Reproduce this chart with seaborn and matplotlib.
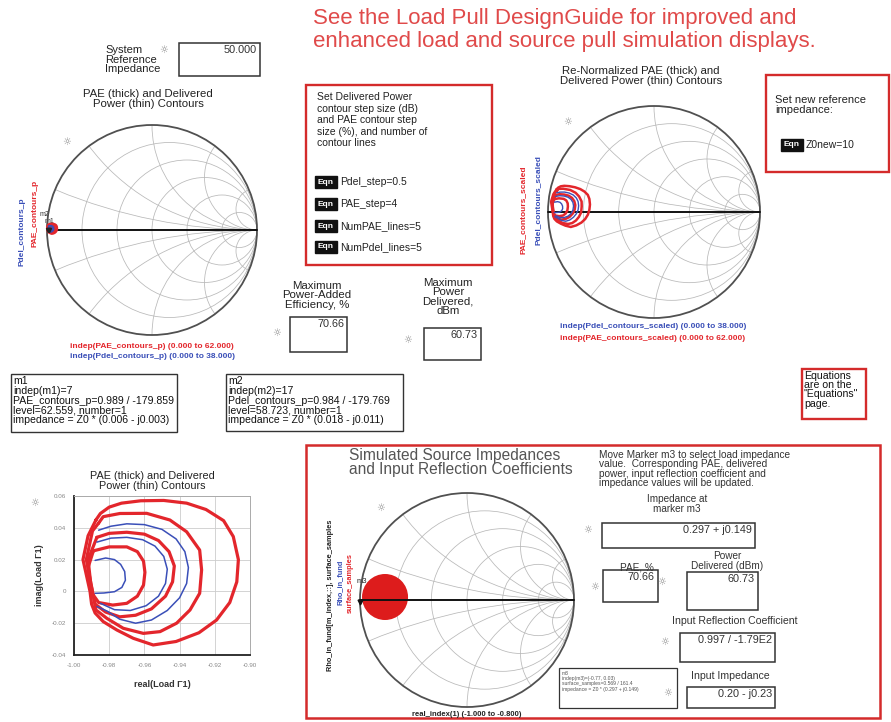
import numpy as np
import pandas as pd
import matplotlib
matplotlib.use("Agg")
import matplotlib.pyplot as plt
from matplotlib.patches import Rectangle, Circle
import seaborn as sns

sns.set_theme(style="white")
plt.rcParams["font.family"] = ["Liberation Sans", "DejaVu Sans"]

W, H = 891, 722

# ---------------- data ----------------
z0_system = 50.0
z0_new = 10.0
pdel_step = 0.5
pae_step = 4
num_pae_lines = 5
num_pdel_lines = 5
max_pae = 70.66
max_pdel = 60.73
imp_m3 = "0.297 + j0.149"
rho_in_mag = 0.997
rho_in_ang = -179.0
z_in = "0.20 - j0.23"

# PAE contours (thick, red), load reflection coefficient
pae_c1_re = [-0.9875, -0.9850, -0.9800, -0.9730, -0.9620, -0.9490, -0.9360, -0.9250, -0.9150,
             -0.9095, -0.9066, -0.9075, -0.9115, -0.9190, -0.9290, -0.9420, -0.9550, -0.9663,
             -0.9756, -0.9834, -0.9880, -0.9900, -0.9909, -0.9949, -0.9920, -0.9875]
pae_c1_im = [0.0450, 0.0490, 0.0530, 0.0555, 0.0570, 0.0572, 0.0555, 0.0515, 0.0445,
             0.0345, 0.0200, 0.0060, -0.0070, -0.0180, -0.0260, -0.0315, -0.0337, -0.0295,
             -0.0243, -0.0190, -0.0136, -0.0080, 0.0000, 0.0200, 0.0350, 0.0450]
pae_c2_re = [-0.9860, -0.9834, -0.9739, -0.9587, -0.9455, -0.9360, -0.9286, -0.9275, -0.9286,
             -0.9341, -0.9417, -0.9511, -0.9606, -0.9720, -0.9814, -0.9875, -0.9895, -0.9930,
             -0.9895, -0.9860]
pae_c2_im = [0.0430, 0.0470, 0.0490, 0.0491, 0.0449, 0.0375, 0.0260, 0.0135, -0.0012,
             -0.0117, -0.0200, -0.0253, -0.0264, -0.0232, -0.0169, -0.0117, 0.0000, 0.0200,
             0.0380, 0.0430]
pae_c3_re = [-0.9870, -0.9800, -0.9700, -0.9600, -0.9520, -0.9460, -0.9430, -0.9440, -0.9480,
             -0.9560, -0.9650, -0.9740, -0.9820, -0.9880, -0.9905, -0.9920, -0.9870]
pae_c3_im = [0.0340, 0.0365, 0.0372, 0.0360, 0.0320, 0.0250, 0.0160, 0.0060, -0.0030,
             -0.0110, -0.0150, -0.0160, -0.0130, -0.0080, 0.0050, 0.0200, 0.0340]
pae_c4_re = [-0.9890, -0.9800, -0.9700, -0.9640, -0.9605, -0.9597, -0.9605, -0.9640, -0.9700,
             -0.9780, -0.9860, -0.9905, -0.9920, -0.9890]
pae_c4_im = [0.0255, 0.0280, 0.0280, 0.0250, 0.0190, 0.0120, 0.0040, -0.0030, -0.0075,
             -0.0086, -0.0070, 0.0000, 0.0150, 0.0255]

# Delivered power contours (thin, blue)
pdel_c1_re = [-0.9860, -0.9790, -0.9700, -0.9600, -0.9500, -0.9420, -0.9370, -0.9350, -0.9360,
              -0.9400, -0.9470, -0.9560, -0.9650, -0.9740, -0.9810, -0.9870]
pdel_c1_im = [0.0385, 0.0410, 0.0425, 0.0420, 0.0390, 0.0330, 0.0250, 0.0150, 0.0050,
              -0.0040, -0.0120, -0.0180, -0.0200, -0.0175, -0.0125, -0.0095]
pdel_c2_re = [-0.9870, -0.9790, -0.9700, -0.9610, -0.9540, -0.9490, -0.9470, -0.9480, -0.9520,
              -0.9590, -0.9680, -0.9770, -0.9850]
pdel_c2_im = [0.0310, 0.0335, 0.0340, 0.0325, 0.0285, 0.0220, 0.0140, 0.0050, -0.0030,
              -0.0090, -0.0120, -0.0115, -0.0075]
pdel_c3_re = [-0.9880, -0.9820, -0.9770, -0.9735, -0.9712, -0.9708, -0.9728, -0.9770, -0.9830,
              -0.9880]
pdel_c3_im = [0.0195, 0.0210, 0.0200, 0.0170, 0.0125, 0.0070, 0.0025, -0.0002, -0.0010,
              -0.0012]

# markers on the load contours
m1_mag, m1_ang = 0.989, -179.859
m2_mag, m2_ang = 0.984, -179.769

# simulated source-impedance samples (filled disk) on the input Smith chart
src_center_re, src_center_im = -0.766, 0.028
src_radius = 0.215

# Smith chart grid values
smith_r = [0.2, 0.5, 1.0, 2.0, 5.0]
smith_x = [0.2, 0.5, 1.0, 2.0, 5.0]

# rectangular plot ticks
rect_xticks = [-1.00, -0.98, -0.96, -0.94, -0.92, -0.90]
rect_yticks = [-0.04, -0.02, 0.0, 0.02, 0.04, 0.06]

RED = "#e3262c"
BLUE = "#3a4fb8"
GRID = "#b8b8b8"
BOXRED = "#d42b2b"


def frame(pairs, name):
    return pd.DataFrame({"re": pairs[0], "im": pairs[1], "level": name})


pae_df = pd.concat([frame((pae_c1_re, pae_c1_im), "p1"), frame((pae_c2_re, pae_c2_im), "p2"),
                    frame((pae_c3_re, pae_c3_im), "p3"), frame((pae_c4_re, pae_c4_im), "p4")],
                   ignore_index=True)
pdel_df = pd.concat([frame((pdel_c1_re, pdel_c1_im), "d1"), frame((pdel_c2_re, pdel_c2_im), "d2"),
                     frame((pdel_c3_re, pdel_c3_im), "d3")], ignore_index=True)


def renorm(df):
    g = df["re"].to_numpy() + 1j * df["im"].to_numpy()
    z = z0_system * (1 + g) / (1 - g)
    gn = (z - z0_new) / (z + z0_new)
    out = df.copy()
    out["re"], out["im"] = gn.real, gn.imag
    return out


pae_scaled = renorm(pae_df)
pdel_scaled = renorm(pdel_df)

# ---------------- figure ----------------
fig = plt.figure(figsize=(W / 100, H / 100), dpi=100)
fig.patch.set_facecolor("white")
bg = fig.add_axes([0, 0, 1, 1])
bg.set_xlim(0, W)
bg.set_ylim(H, 0)
bg.axis("off")


def ax_px(x0, y0, w, h):
    a = fig.add_axes([x0 / W, 1 - (y0 + h) / H, w / W, h / H])
    a.patch.set_alpha(0)
    return a


def txt(x, y, s, size=7.5, color="#222222", ha="left", va="top", ls=1.0, **kw):
    bg.text(x, y, s, fontsize=size, color=color, ha=ha, va=va, linespacing=ls, **kw)


def box(x0, y0, x1, y1, ec="#333333", lw=1.0):
    bg.add_patch(Rectangle((x0, y0), x1 - x0, y1 - y0, fill=False, ec=ec, lw=lw))


def value_box(x0, y0, x1, y1, s, size=7.8):
    box(x0, y0, x1, y1, lw=1.1)
    txt(x1 - 3, y0 + 2, s, size=size, color="#333333", ha="right")


def handle(x, y):
    bg.text(x, y, "\u263c", fontsize=7, color="#8a8a8a", ha="center", va="center",
            family=["DejaVu Sans"])


def eqn(x, y, s):
    bg.add_patch(Rectangle((x, y - 6), 22, 12, color="#111111"))
    bg.text(x + 11, y, "Eqn", fontsize=6, color="white", ha="center", va="center",
            fontweight="bold")
    txt(x + 25, y, s, size=7.5, color="#222222", va="center")


def smith(cx, cy, R):
    pad = 1.04
    a = ax_px(cx - R * pad, cy - R * pad, 2 * R * pad, 2 * R * pad)
    a.set_xlim(-pad, pad)
    a.set_ylim(-pad, pad)
    a.set_aspect("equal")
    a.axis("off")
    clip = Circle((0, 0), 1, transform=a.transData, fill=False, ec="none")
    a.add_patch(clip)
    for r in smith_r:
        c = Circle((r / (1 + r), 0), 1 / (1 + r), fill=False, ec=GRID, lw=0.55)
        a.add_patch(c)
        c.set_clip_path(clip)
    for x in smith_x:
        for s in (1, -1):
            c = Circle((1, s / x), 1 / x, fill=False, ec=GRID, lw=0.55)
            a.add_patch(c)
            c.set_clip_path(clip)
    a.add_patch(Circle((0, 0), 1, fill=False, ec="#505050", lw=1.3))
    a.plot([-1, 1], [0, 0], color="#111111", lw=1.4)
    return a


def draw_contours(a, pae, pdel, lw_pae=2.2, lw_pdel=1.1):
    sns.lineplot(data=pae, x="re", y="im", units="level", estimator=None, sort=False,
                 color=RED, lw=lw_pae, ax=a, legend=False)
    sns.lineplot(data=pdel, x="re", y="im", units="level", estimator=None, sort=False,
                 color=BLUE, lw=lw_pdel, ax=a, legend=False)
    a.set_xlabel("")
    a.set_ylabel("")


# ---- header ----
txt(313, 8, "See the Load Pull DesignGuide for improved and\nenhanced load and source pull simulation displays.",
    size=16, color="#e04a4a", ls=1.15)
txt(105, 45, "System\nReference\nImpedance", size=8, ls=0.95)
handle(164, 50)
value_box(179, 43, 260, 76, f"{z0_system:.3f}")

# ---- Smith chart 1: PAE / Pdel contours ----
txt(148, 89, "PAE (thick) and Delivered\nPower (thin) Contours", size=8.2, ha="center", ls=0.95)
handle(67, 142)
s1 = smith(152, 230, 105)
draw_contours(s1, pae_df, pdel_df, lw_pae=2.0, lw_pdel=1.0)
s1.set_xlim(-1.04, 1.04)
s1.set_ylim(-1.04, 1.04)
for mag, ang in ((m1_mag, m1_ang), (m2_mag, m2_ang)):
    s1.plot(mag * np.cos(np.radians(ang)), mag * np.sin(np.radians(ang)), marker="v", ms=3,
            color="#222222")
txt(40, 211, "m2", size=5, color="#333333")
txt(45, 218, "m1", size=5, color="#333333")
bg.text(35, 213, "PAE_contours_p", rotation=90, fontsize=6, color=RED, ha="center", va="center",
        fontweight="bold")
bg.text(22, 232, "Pdel_contours_p", rotation=90, fontsize=6, color=BLUE, ha="center",
        va="center", fontweight="bold")
txt(152, 347, "indep(PAE_contours_p) (0.000 to 62.000)", size=6, color=RED, ha="center",
    va="center", fontweight="bold")
txt(152, 357, "indep(Pdel_contours_p) (0.000 to 38.000)", size=6, color=BLUE, ha="center",
    va="center", fontweight="bold")

# ---- step-size equations ----
box(306, 85, 492, 265, ec=BOXRED, lw=1.7)
txt(317, 92, "Set Delivered Power\ncontour step size (dB)\nand PAE contour step\nsize (%), and number of\ncontour lines",
    size=7.5, ls=1.2)
eqn(315, 182, f"Pdel_step={pdel_step}")
eqn(315, 204, f"PAE_step={pae_step}")
eqn(315, 226, f"NumPAE_lines={num_pae_lines}")
eqn(315, 247, f"NumPdel_lines={num_pdel_lines}")

# ---- Smith chart 2: re-normalized ----
txt(641, 66, "Re-Normalized PAE (thick) and\nDelivered Power (thin) Contours", size=8.2, ha="center",
    ls=0.95)
handle(568, 122)
s2 = smith(654, 212, 106)
draw_contours(s2, pae_scaled, pdel_scaled, lw_pae=1.8, lw_pdel=1.0)
s2.set_xlim(-1.04, 1.04)
s2.set_ylim(-1.04, 1.04)
bg.text(523, 210, "PAE_contours_scaled", rotation=90, fontsize=6, color=RED, ha="center",
        va="center", fontweight="bold")
bg.text(538, 200, "Pdel_contours_scaled", rotation=90, fontsize=6, color=BLUE, ha="center",
        va="center", fontweight="bold")
txt(653, 327, "indep(Pdel_contours_scaled) (0.000 to 38.000)", size=6, color=BLUE, ha="center",
    va="center", fontweight="bold")
txt(653, 338, "indep(PAE_contours_scaled) (0.000 to 62.000)", size=6, color=RED, ha="center",
    va="center", fontweight="bold")

box(766, 75, 889, 172, ec=BOXRED, lw=1.7)
txt(775, 95, "Set new reference\nimpedance:", size=8, ls=0.95)
eqn(781, 145, f"Z0new={z0_new:g}")

# ---- maxima ----
txt(317, 281, "Maximum\nPower-Added\nEfficiency, %", size=8.2, ha="center", ls=0.92)
handle(277, 333)
value_box(290, 317, 347, 352, f"{max_pae:.2f}")
txt(448, 278, "Maximum\nPower\nDelivered,\ndBm", size=8.2, ha="center", ls=0.92)
handle(408, 340)
value_box(424, 328, 481, 360, f"{max_pdel:.2f}")

# ---- marker readouts ----
box(11, 374, 177, 432)
txt(13, 376, "m1\nindep(m1)=7\nPAE_contours_p=0.989 / -179.859\nlevel=62.559, number=1\nimpedance = Z0 * (0.006 - j0.003)",
    size=7.6, color="#111111", ls=0.98)
box(226, 374, 403, 431)
txt(228, 376, "m2\nindep(m2)=17\nPdel_contours_p=0.984 / -179.769\nlevel=58.723, number=1\nimpedance = Z0 * (0.018 - j0.011)",
    size=7.6, color="#111111", ls=0.98)

box(802, 369, 866, 419, ec=BOXRED, lw=1.7)
txt(804, 371, "Equations\nare on the\n\"Equations\"\npage.", size=7.6, color="#111111", ls=0.9)

# ---- rectangular contour plot ----
txt(152, 471, "PAE (thick) and Delivered\nPower (thin) Contours", size=7.8, ha="center", ls=0.95)
handle(35, 503)
rp = ax_px(74, 496, 176, 159)
rp.patch.set_alpha(1)
rp.patch.set_facecolor("white")
draw_contours(rp, pae_df, pdel_df, lw_pae=2.3, lw_pdel=1.1)
rp.set_xlim(rect_xticks[0], rect_xticks[-1])
rp.set_ylim(rect_yticks[0], rect_yticks[-1])
rp.set_xticks(rect_xticks)
rp.set_yticks(rect_yticks)
rp.set_xticks([(a + b) / 2 for a, b in zip(rect_xticks[:-1], rect_xticks[1:])], minor=True)
rp.set_yticks([(a + b) / 2 for a, b in zip(rect_yticks[:-1], rect_yticks[1:])], minor=True)
rp.set_xticklabels([f"{v:.2f}" for v in rect_xticks])
rp.set_yticklabels([f"{v:.2f}" if v else "0" for v in rect_yticks])
rp.grid(True, which="major", color="#cccccc", lw=0.6)
rp.tick_params(which="major", direction="inout", length=5, width=1.0, labelsize=4.5,
               labelcolor="#888888", color="#222222", pad=3)
rp.tick_params(which="minor", direction="out", length=2.5, width=1.0, color="#222222")
for side in ("top", "right"):
    rp.spines[side].set_color("#aaaaaa")
    rp.spines[side].set_linewidth(0.7)
for side in ("left", "bottom"):
    rp.spines[side].set_color("#222222")
    rp.spines[side].set_linewidth(1.3)
rp.set_xlabel("real(Load \u03931)", fontsize=6.5, fontweight="bold", color="#333333", labelpad=9)
rp.set_ylabel("imag(Load \u03931)", fontsize=6.5, fontweight="bold", color="#333333", labelpad=6)

# ---- source impedances panel ----
box(306, 445, 880, 718, ec=BOXRED, lw=1.8)
txt(349, 448, "Simulated Source Impedances\nand Input Reflection Coefficients", size=11.2,
    color="#555555", ls=0.95)
handle(381, 508)
s3 = smith(467, 600, 107)
s3.add_patch(Circle((src_center_re, src_center_im), src_radius, color="#dd1c1c", lw=0))
rho_re = rho_in_mag * np.cos(np.radians(rho_in_ang))
rho_im = rho_in_mag * np.sin(np.radians(rho_in_ang))
s3.plot(rho_re, rho_im, marker="v", ms=3.5, color="#111111")
txt(357, 578, "m3", size=5.5, color="#222222")
bg.text(330, 595, "Rho_in_fund[m_index,::], surface_samples", rotation=90, fontsize=5.3,
        color="#222222", ha="center", va="center", fontweight="bold")
bg.text(340, 582, "Rho_in_fund", rotation=90, fontsize=5.3, color=BLUE, ha="center", va="center",
        fontweight="bold")
bg.text(350, 583, "surface_samples", rotation=90, fontsize=5.3, color=RED, ha="center",
        va="center", fontweight="bold")
txt(467, 714, "real_index(1) (-1.000 to -0.800)", size=5.5, color="#222222", ha="center",
    va="center", fontweight="bold")

box(559, 668, 677, 708, lw=0.9)
txt(562, 671, "m3\nindep(m3)=(-0.77, 0.03)\nsurface_samples=0.569 / 161.4\nimpedance = Z0 * (0.297 + j0.149)",
    size=3.6, color="#555555", ls=1.05)

txt(599, 450, "Move Marker m3 to select load impedance\nvalue.  Corresponding PAE, delivered\npower, input reflection coefficient and\nimpedance values will be updated.",
    size=7.3, color="#333333", ls=0.93)
txt(677, 494, "Impedance at\nmarker m3", size=7.2, color="#333333", ha="center", ls=0.95)
handle(588, 530)
value_box(602, 523, 755, 548, imp_m3)
txt(637, 562, "PAE, %", size=7.2, color="#333333", ha="center")
txt(727, 551, "Power\nDelivered (dBm)", size=7.2, color="#333333", ha="center", ls=0.95)
handle(595, 587)
value_box(603, 570, 658, 602, f"{max_pae:.2f}")
handle(662, 582)
value_box(687, 572, 758, 610, f"{max_pdel:.2f}")
txt(735, 616, "Input Reflection Coefficient", size=7.6, color="#333333", ha="center")
handle(665, 642)
value_box(680, 633, 775, 662, f"{rho_in_mag:.3f} / {rho_in_ang:.2E}".replace("E+02", "E2"))
txt(730, 671, "Input Impedance", size=7.6, color="#333333", ha="center")
handle(668, 693)
value_box(687, 687, 775, 708, z_in)

fig.savefig("out.png", dpi=100, facecolor="white")
